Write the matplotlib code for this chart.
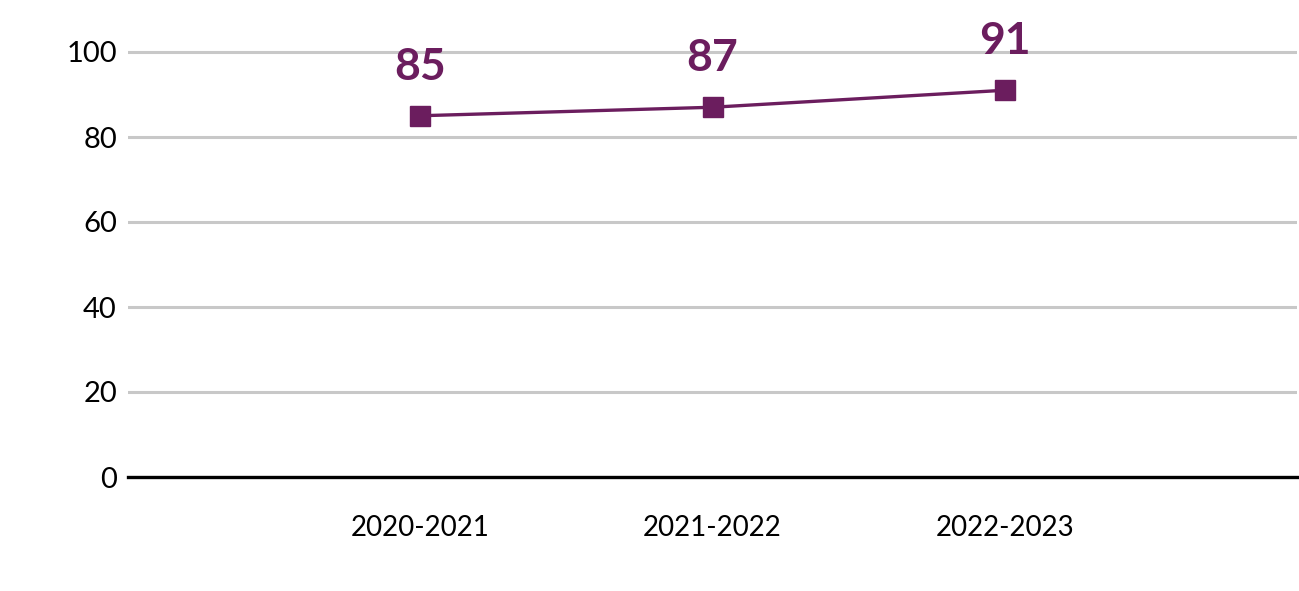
import matplotlib
matplotlib.use("Agg")
import matplotlib.pyplot as plt

categories = ["2020-2021", "2021-2022", "2022-2023"]
values = [85, 87, 91]
yticks = [0, 20, 40, 60, 80, 100]

purple = "#6B1D5E"
plt.rcParams['font.family'] = ['Lato', 'DejaVu Sans']

fig = plt.figure(figsize=(12.99, 5.91), dpi=100)
ax = fig.add_axes([128/1299, (591-477)/591, (1297-128)/1299, (477-9.5)/591])

x = list(range(len(categories)))
ax.plot(x, values, color=purple, lw=2.4, marker="s", markersize=14, zorder=3)
for xi, v in zip(x, values):
    ax.annotate(str(v), (xi, v), xytext=(0, 21), textcoords="offset points",
                ha="center", va="bottom", fontsize=32, fontweight="bold", color=purple)

ax.set_xlim(-1, 3)
ax.set_ylim(0, 110)
ax.set_yticks(yticks)
ax.set_xticks(x)
ax.set_xticklabels(categories, fontsize=20)
ax.tick_params(axis="y", labelsize=21, length=0, pad=8)
ax.tick_params(axis="x", length=0, pad=27)
ax.yaxis.grid(True, color="#c8c8c8", lw=2.2)
ax.set_axisbelow(True)
for s in ["top", "right", "left"]:
    ax.spines[s].set_visible(False)
ax.spines["bottom"].set_color("black")
ax.spines["bottom"].set_linewidth(2.4)
ax.spines["bottom"].set_zorder(2)

fig.savefig("out.png", dpi=100)
